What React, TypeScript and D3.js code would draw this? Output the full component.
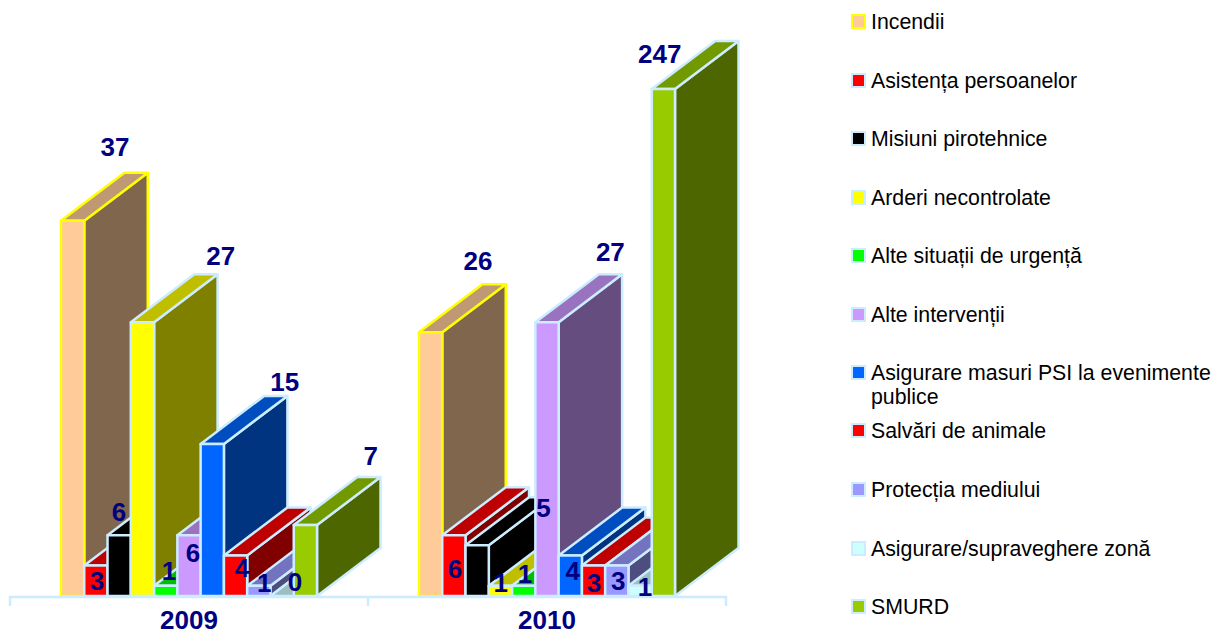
import React from "react";
import * as d3 from "d3";

const years = ["2009", "2010"];
const seriesNames = [
  "Incendii",
  "Asistența persoanelor",
  "Misiuni pirotehnice",
  "Arderi necontrolate",
  "Alte situații de urgență",
  "Alte intervenții",
  "Asigurare masuri PSI la evenimente publice",
  "Salvări de animale",
  "Protecția mediului",
  "Asigurare/supraveghere zonă",
  "SMURD",
];
const values2009 = [37, 3, 6, 27, 1, 6, 15, 4, 1, 0, 7];
const values2010 = [26, 6, 5, 1, 1, 27, 4, 3, 3, 1, 247];
const fills = ["#FFCC99", "#FF0000", "#000000", "#FFFF00", "#00FF00", "#CC99FF", "#0066FF", "#FF0000", "#9999FF", "#CCFFFF", "#99CC00"];
const borderLight = "#CCECFF";
const borders = ["#FFFF00", borderLight, borderLight, borderLight, borderLight, borderLight, borderLight, borderLight, borderLight, borderLight, borderLight];

// manual data-label placement relative to each bar's top-left corner
const labelNudge2009: [number, number][] = [[54, -73], [12.7, 16], [11.4, -23], [90, -66], [15, -14], [15.6, 18], [84, -61], [18, 13], [17, -2], [24.5, -14], [77, -69]];
const labelNudge2010: [number, number][] = [[59, -71], [12.7, 34], [78, -37], [12, -2], [13, -11], [75, -70], [14, 16], [12, 18], [13, 16], [16.5, 2], [8, -35]];

const legendY = [22, 81, 139, 198, 256, 315, 373, 431, 490, 549, 607];

const DEPTH_X = 63.5;
const DEPTH_Y = 48;
const EDGE = 2.5;
const TEXT_FONT = "'Liberation Sans', Arial, sans-serif";

function shade(c: string, k: number) {
  const r = d3.rgb(c);
  return d3.rgb(r.r * k, r.g * k, r.b * k).formatHex();
}

const poly = d3.line<[number, number]>().curve(d3.curveLinearClosed);

export default function App() {
  const yearScale = d3.scaleBand<string>().domain(years).range([10, 726]);
  const barScale = d3
    .scaleBand<number>()
    .domain(d3.range(seriesNames.length))
    .range([0, yearScale.bandwidth()])
    .paddingInner(0)
    .paddingOuter(2.19);
  // value axis is truncated at 50: the 247 bar is clipped by it
  const y = d3.scaleLinear().domain([0, 50]).range([596, 89]).clamp(true);
  const w = barScale.bandwidth();
  const base = y(0);
  const yearValues = [values2009, values2010];
  const yearNudges = [labelNudge2009, labelNudge2010];

  return (
    <svg
      width={1215}
      height={630}
      style={{ position: "absolute", left: 0, top: 0, background: "#fff", fontFamily: TEXT_FONT }}
    >
      {years.map((yr, yi) => {
        const x0 = yearScale(yr)!;
        return (
          <g key={yr}>
            {yearValues[yi].map((v, i) => {
              const x = x0 + barScale(i)!;
              const t = y(v);
              const stroke = borders[i];
              const common = { stroke, strokeWidth: EDGE, strokeLinejoin: "round" as const };
              return (
                <g key={i}>
                  <path
                    d={poly([[x + w, t], [x + w + DEPTH_X, t - DEPTH_Y], [x + w + DEPTH_X, base - DEPTH_Y], [x + w, base]])!}
                    fill={shade(fills[i], 0.5)}
                    {...common}
                  />
                  <path
                    d={poly([[x, t], [x + DEPTH_X, t - DEPTH_Y], [x + w + DEPTH_X, t - DEPTH_Y], [x + w, t]])!}
                    fill={shade(fills[i], 0.75)}
                    {...common}
                  />
                  <rect x={x} y={t} width={w} height={base - t} fill={fills[i]} {...common} />
                </g>
              );
            })}
          </g>
        );
      })}

      <path
        d={`M${yearScale.range()[0]},606V${base + 1}H${yearScale.range()[1]}V606M${yearScale("2010")},${base + 1}V606`}
        fill="none"
        stroke={borderLight}
        strokeWidth={EDGE}
      />

      {years.map((yr, yi) =>
        yearValues[yi].map((v, i) => {
          const x = yearScale(yr)! + barScale(i)!;
          const [nx, ny] = yearNudges[yi][i];
          return (
            <text
              key={`${yr}-${i}`}
              x={x + nx}
              y={y(v) + ny}
              dy="0.33em"
              textAnchor="middle"
              fontSize={26}
              fontWeight="bold"
              fill="#000080"
            >
              {v}
            </text>
          );
        })
      )}

      {years.map((yr) => (
        <text
          key={yr}
          x={yearScale(yr)! + yearScale.bandwidth() / 2}
          y={628.5}
          textAnchor="middle"
          fontSize={26}
          fontWeight="bold"
          fill="#000080"
        >
          {yr}
        </text>
      ))}

      {seriesNames.map((name, i) => {
        const ly = legendY[i];
        const wrapped = name.startsWith("Asigurare masuri");
        return (
          <g key={i}>
            <rect x={852} y={ly - 7} width={13} height={13} fill={fills[i]} stroke={borders[i]} strokeWidth={2} />
            <text x={871} y={ly} dy="0.32em" fontSize={21.3} fill="#000">
              {wrapped ? "Asigurare masuri PSI la evenimente" : name}
            </text>
            {wrapped && (
              <text x={871} y={ly + 24} dy="0.32em" fontSize={21.3} fill="#000">
                publice
              </text>
            )}
          </g>
        );
      })}
    </svg>
  );
}
